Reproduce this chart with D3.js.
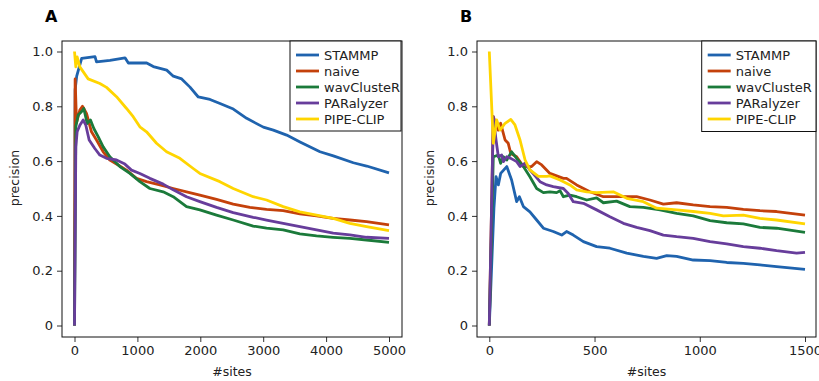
<!DOCTYPE html>
<html>
<head>
<meta charset="utf-8">
<script src="https://cdn.jsdelivr.net/npm/d3@7"></script>
<style>
  body { margin: 0; background: #fff; }
  svg { font-family: "DejaVu Sans", sans-serif; }
</style>
</head>
<body>
<svg width="819" height="381"></svg>
<script>
const svg = d3.select("svg");

const seriesNames = ["STAMMP", "naive", "wavClusteR", "PARalyzer", "PIPE-CLIP"];
const seriesColors = ["#1f63ae", "#c4410b", "#1b7a3a", "#673d9b", "#ffd500"];

const yTicks = [0, 0.2, 0.4, 0.6, 0.8, 1.0];
const xTicksA = [0, 1000, 2000, 3000, 4000, 5000];
const xTicksB = [0, 500, 1000, 1500];

// panel A: [#sites, precision]
const stammpA = [[0,0],[10,0.86],[35,0.91],[114,0.975],[326,0.981],[350,0.962],[564,0.968],[803,0.977],[856,0.958],
  [1148,0.958],[1253,0.945],[1466,0.932],[1571,0.91],[1704,0.9],[1836,0.87],[1968,0.834],[2154,0.825],[2313,0.81],
  [2525,0.79],[2737,0.756],[3002,0.724],[3161,0.713],[3373,0.695],[3585,0.67],[3903,0.634],[4115,0.619],[4433,0.594],
  [4645,0.582],[5000,0.557]];
const naiveA = [[0,0],[10,0.9],[32,0.74],[85,0.786],[127,0.8],[191,0.774],[270,0.707],[350,0.677],[456,0.634],[562,0.604],
  [694,0.586],[827,0.567],[986,0.537],[1145,0.525],[1357,0.513],[1569,0.5],[1781,0.488],[1993,0.476],[2258,0.46],
  [2523,0.443],[2788,0.431],[3053,0.424],[3318,0.419],[3583,0.407],[3848,0.4],[4113,0.391],[4378,0.385],[4643,0.379],[5000,0.367]];
const wavA = [[0,0],[21,0.725],[58,0.768],[111,0.78],[148,0.792],[201,0.737],[254,0.75],[307,0.719],[376,0.689],[456,0.652],
  [562,0.616],[721,0.58],[880,0.555],[1039,0.525],[1198,0.5],[1410,0.488],[1569,0.47],[1781,0.434],[1993,0.422],
  [2258,0.403],[2523,0.385],[2841,0.363],[3053,0.355],[3318,0.349],[3583,0.334],[3848,0.327],[4113,0.322],[4378,0.318],
  [4643,0.312],[5000,0.303]];
const paraA = [[0,0],[21,0.652],[42,0.707],[85,0.731],[138,0.75],[180,0.731],[233,0.677],[323,0.646],[403,0.622],[509,0.61],
  [668,0.604],[801,0.589],[906,0.567],[1039,0.555],[1198,0.537],[1410,0.516],[1569,0.495],[1781,0.47],[1993,0.452],
  [2258,0.431],[2523,0.412],[2841,0.395],[3053,0.385],[3318,0.373],[3583,0.361],[3848,0.349],[4113,0.337],[4378,0.331],
  [4643,0.322],[5000,0.318]];
const pipeA = [[0,1.0],[21,0.944],[42,0.98],[85,0.944],[217,0.9],[403,0.883],[509,0.869],[668,0.835],[827,0.792],[933,0.762],
  [1039,0.725],[1145,0.707],[1304,0.665],[1463,0.634],[1675,0.61],[1887,0.573],[1993,0.555],[2311,0.525],[2523,0.5],
  [2841,0.47],[3053,0.458],[3318,0.434],[3583,0.415],[3848,0.403],[4113,0.391],[4378,0.373],[4643,0.361],[5000,0.346]];

// panel B: [#sites, precision]
const stammpB = [[0,0],[22,0.428],[32,0.543],[43,0.513],[54,0.555],[83,0.58],[106,0.531],[130,0.452],[143,0.47],[162,0.434],
  [193,0.415],[225,0.385],[257,0.355],[304,0.343],[344,0.33],[367,0.343],[399,0.33],[447,0.306],[510,0.288],[573,0.282],
  [653,0.264],[732,0.252],[795,0.245],[843,0.255],[890,0.252],[969,0.239],[1049,0.237],[1128,0.23],[1207,0.227],
  [1286,0.221],[1365,0.215],[1500,0.205]];
const naiveB = [[0,0],[19,0.762],[43,0.713],[54,0.738],[75,0.677],[90,0.665],[102,0.628],[130,0.616],[162,0.58],[201,0.58],
  [225,0.598],[249,0.586],[288,0.555],[352,0.537],[367,0.537],[415,0.513],[478,0.488],[542,0.47],[621,0.47],[700,0.47],
  [763,0.458],[827,0.443],[890,0.448],[969,0.44],[1049,0.434],[1128,0.431],[1207,0.424],[1286,0.419],[1365,0.416],[1500,0.403]];
const wavB = [[0,0],[19,0.616],[43,0.622],[54,0.592],[67,0.616],[83,0.604],[106,0.634],[130,0.61],[162,0.58],[193,0.543],
  [225,0.5],[257,0.485],[288,0.488],[320,0.485],[336,0.492],[352,0.47],[383,0.476],[415,0.47],[463,0.458],[510,0.466],
  [542,0.448],[605,0.454],[668,0.434],[732,0.431],[811,0.422],[890,0.409],[969,0.4],[1049,0.383],[1128,0.375],
  [1207,0.371],[1286,0.358],[1365,0.355],[1500,0.34]];
const paraB = [[0,0],[19,0.762],[32,0.677],[43,0.616],[59,0.622],[67,0.598],[83,0.616],[102,0.61],[130,0.598],[146,0.58],
  [170,0.592],[193,0.568],[241,0.525],[273,0.513],[304,0.507],[352,0.5],[375,0.482],[399,0.452],[447,0.446],[510,0.422],
  [573,0.397],[637,0.373],[700,0.358],[763,0.346],[827,0.33],[890,0.324],[969,0.318],[1049,0.306],[1128,0.298],
  [1207,0.288],[1286,0.282],[1365,0.273],[1460,0.264],[1500,0.267]];
const pipeB = [[0,1.0],[19,0.665],[35,0.75],[51,0.713],[75,0.738],[102,0.752],[122,0.732],[146,0.677],[170,0.604],[193,0.568],
  [233,0.544],[273,0.544],[288,0.546],[336,0.531],[383,0.513],[415,0.495],[463,0.488],[510,0.485],[589,0.488],[653,0.464],
  [732,0.452],[795,0.428],[890,0.422],[969,0.416],[1049,0.409],[1112,0.4],[1207,0.403],[1286,0.391],[1365,0.385],[1500,0.371]];

const panels = [
  {label: "A", box: [62, 41, 402, 337], xDomain: [0, 5000], xRange: [74.5, 389], xTicks: xTicksA,
   series: [stammpA, naiveA, wavA, paraA, pipeA], legend: [290, 41, 401, 131]},
  {label: "B", box: [477, 41, 816, 337], xDomain: [0, 1500], xRange: [489.3, 805], xTicks: xTicksB,
   series: [stammpB, naiveB, wavB, paraB, pipeB], legend: [701.7, 41, 816, 131.5]}
];

const yFormat = d => d === 0 ? "0" : d3.format(".1f")(d);

panels.forEach(p => {
  const [x0, y0, x1, y1] = p.box;
  const g = svg.append("g");

  const xScale = d3.scaleLinear().domain(p.xDomain).range(p.xRange);
  const yScale = d3.scaleLinear().domain([0, 1]).range([325.5, 51.5]);

  // panel letter
  g.append("text")
    .attr("x", x0 - 17)
    .attr("y", 22)
    .attr("font-size", 16)
    .attr("font-weight", "bold")
    .text(p.label);

  // axes
  const xAxis = g.append("g")
    .attr("transform", `translate(0,${y1})`)
    .call(d3.axisBottom(xScale).tickValues(p.xTicks).tickSize(5).tickPadding(4).tickFormat(d3.format("d")));
  const yAxis = g.append("g")
    .attr("transform", `translate(${x0},0)`)
    .call(d3.axisLeft(yScale).tickValues(yTicks).tickSize(5).tickPadding(4).tickFormat(yFormat));
  [xAxis, yAxis].forEach(a => {
    a.select(".domain").remove();
    a.selectAll("text").attr("font-size", 13).attr("font-family", "DejaVu Sans").attr("fill", "#222");
    a.selectAll("line").attr("stroke", "#333");
  });

  // lines
  const line = d3.line().x(d => xScale(d[0])).y(d => yScale(d[1]));
  p.series.forEach((s, i) => {
    g.append("path")
      .datum(s)
      .attr("fill", "none")
      .attr("stroke", seriesColors[i])
      .attr("stroke-width", 2.8)
      .attr("stroke-linejoin", "round")
      .attr("d", line);
  });

  // frame
  g.append("rect")
    .attr("x", x0).attr("y", y0)
    .attr("width", x1 - x0).attr("height", y1 - y0)
    .attr("fill", "none").attr("stroke", "#111").attr("stroke-width", 1);

  // axis titles
  g.append("text")
    .attr("x", (x0 + x1) / 2)
    .attr("y", 376)
    .attr("text-anchor", "middle")
    .attr("font-size", 12.5)
    .attr("fill", "#222")
    .text("#sites");
  g.append("text")
    .attr("transform", `translate(${x0 - 43},178) rotate(-90)`)
    .attr("text-anchor", "middle")
    .attr("font-size", 12.5)
    .attr("fill", "#222")
    .text("precision");

  // legend
  const [lx0, ly0, lx1, ly1] = p.legend;
  const leg = g.append("g");
  leg.append("rect")
    .attr("x", lx0).attr("y", ly0)
    .attr("width", lx1 - lx0).attr("height", ly1 - ly0)
    .attr("fill", "#fff").attr("stroke", "#111").attr("stroke-width", 1);
  seriesNames.forEach((name, i) => {
    const ly = ly0 + 14 + i * 16;
    leg.append("line")
      .attr("x1", lx0 + 6).attr("x2", lx0 + 29)
      .attr("y1", ly).attr("y2", ly)
      .attr("stroke", seriesColors[i]).attr("stroke-width", 2.8);
    leg.append("text")
      .attr("x", lx0 + 34)
      .attr("y", ly)
      .attr("dy", "0.36em")
      .attr("font-size", 13)
      .attr("fill", "#222")
      .text(name);
  });
});
</script>
</body>
</html>
